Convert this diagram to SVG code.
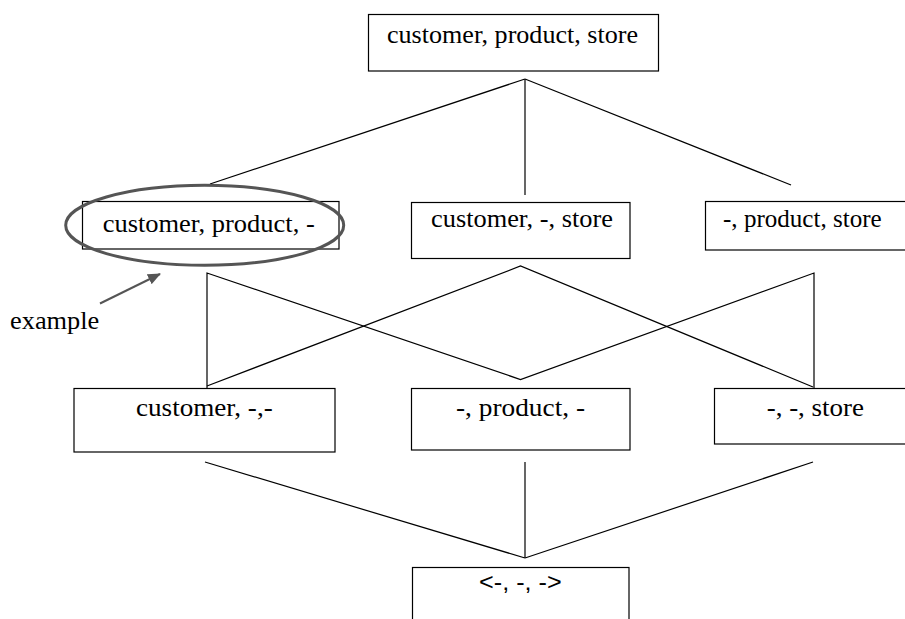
<svg xmlns="http://www.w3.org/2000/svg" width="905" height="619" viewBox="0 0 905 619">
  <defs>
    <marker id="head" markerWidth="13" markerHeight="11" refX="12" refY="5.5" orient="auto" markerUnits="userSpaceOnUse" viewBox="0 0 13 11">
      <path d="M0,0 L13,5.5 L0,11 Z" fill="#555"/>
    </marker>
    <style>
      .box { fill: #fff; stroke: #000; stroke-width: 1.2; }
      .lbl { font-family: "Liberation Serif", "Times New Roman", serif; font-size: 26px; fill: #000; }
      .sans { font-family: "Liberation Sans", Arial, sans-serif; font-size: 24px; fill: #000; }
      .edge { stroke: #000; stroke-width: 1.2; fill: none; }
      .mark { stroke: #555; fill: none; }
    </style>
  </defs>
  <rect width="905" height="619" fill="#fff"/>

  <!-- lattice edges -->
  <g id="connectors">
    <!-- top to second row -->
    <line class="edge" x1="525" y1="79" x2="210" y2="184"/>
    <line class="edge" x1="525" y1="79" x2="525" y2="195"/>
    <line class="edge" x1="525" y1="79" x2="791" y2="185"/>
    <!-- second row to third row -->
    <polyline class="edge" points="207,388 207,273 520.5,379.5 814,273 814,388"/>
    <polyline class="edge" points="207,386 520.5,266 813,387"/>
    <!-- third row to bottom -->
    <line class="edge" x1="205" y1="462" x2="525" y2="558"/>
    <line class="edge" x1="525" y1="462" x2="525" y2="558"/>
    <line class="edge" x1="813" y1="462" x2="525" y2="558"/>
  </g>

  <g id="n-cps">
    <rect class="box" x="368.5" y="14.5" width="290" height="56.5"/>
    <text class="lbl" x="387" y="43" textLength="251" lengthAdjust="spacingAndGlyphs">customer, product, store</text>
  </g>

  <g id="n-cp">
    <rect class="box" x="82.5" y="201.5" width="256.5" height="47.5"/>
    <text class="lbl" x="102.7" y="232" textLength="212" lengthAdjust="spacingAndGlyphs">customer, product, -</text>
  </g>

  <g id="n-cs">
    <rect class="box" x="411.5" y="202.5" width="218.5" height="56"/>
    <text class="lbl" x="431" y="227" textLength="182" lengthAdjust="spacingAndGlyphs">customer, -, store</text>
  </g>

  <g id="n-ps">
    <rect class="box" x="705.5" y="201.5" width="210" height="48.5"/>
    <text class="lbl" x="723" y="227" textLength="158.7" lengthAdjust="spacingAndGlyphs">-, product, store</text>
  </g>

  <g id="n-c">
    <rect class="box" x="74" y="388.5" width="261" height="63.5"/>
    <text class="lbl" x="136" y="416" textLength="136.7" lengthAdjust="spacingAndGlyphs">customer, -,-</text>
  </g>

  <g id="n-p">
    <rect class="box" x="411.5" y="388.5" width="218.5" height="61.5"/>
    <text class="lbl" x="456" y="415.5" textLength="129" lengthAdjust="spacingAndGlyphs">-, product, -</text>
  </g>

  <g id="n-s">
    <rect class="box" x="714.5" y="388.5" width="200" height="55.5"/>
    <text class="lbl" x="766.7" y="416" textLength="97.3" lengthAdjust="spacingAndGlyphs">-, -, store</text>
  </g>

  <g id="n-all">
    <rect class="box" x="412.5" y="567.5" width="216.5" height="70"/>
    <text class="sans" x="479" y="590" textLength="82.7" lengthAdjust="spacingAndGlyphs">&lt;-, -, -&gt;</text>
  </g>

  <!-- highlight around the example cuboid -->
  <g id="example">
    <ellipse class="mark" cx="204.7" cy="225.3" rx="139" ry="40" stroke-width="3"/>
    <line class="mark" x1="100" y1="303.5" x2="160" y2="274" stroke-width="2" marker-end="url(#head)"/>
    <text class="lbl" x="10" y="328.5" textLength="89.3" lengthAdjust="spacingAndGlyphs">example</text>
  </g>
</svg>
